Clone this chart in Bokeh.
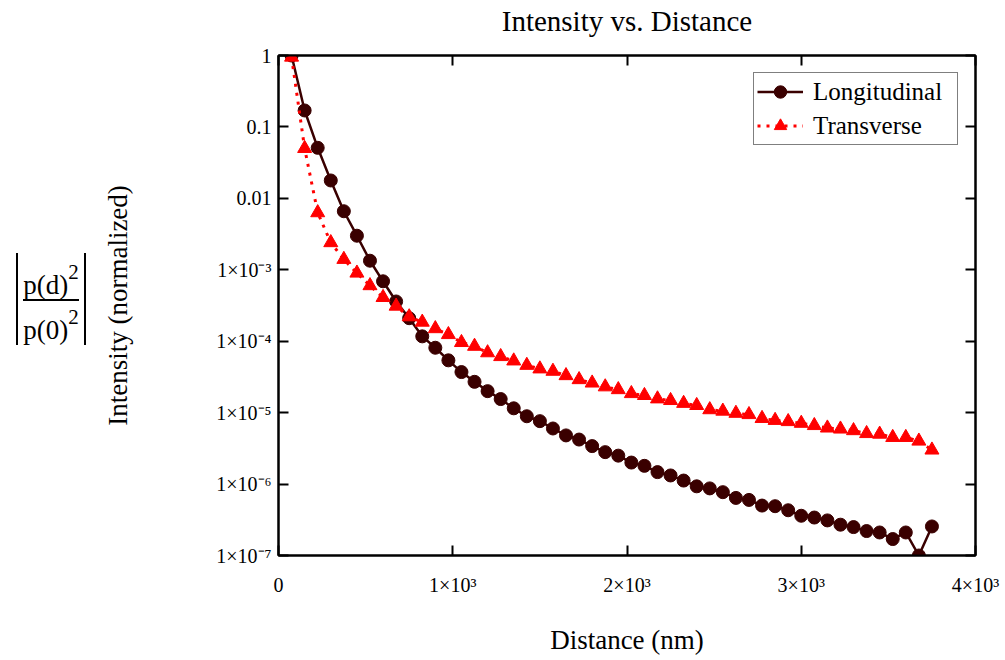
from bokeh.plotting import figure
from bokeh.layouts import row, column
from bokeh.models import (ColumnDataSource, LogAxis, LinearAxis, FixedTicker, Div,
                          CustomJSTickFormatter, Legend, LegendItem, Range1d)
from bokeh.embed import file_html
from bokeh.resources import INLINE

# ---------------- data ----------------
distance_nm = [75, 150, 225, 300, 375, 450, 525, 600, 675, 750,
               825, 900, 975, 1050, 1125, 1200, 1275, 1350, 1425, 1500,
               1575, 1650, 1725, 1800, 1875, 1950, 2025, 2100, 2175, 2250,
               2325, 2400, 2475, 2550, 2625, 2700, 2775, 2850, 2925, 3000,
               3075, 3150, 3225, 3300, 3375, 3450, 3525, 3600, 3675, 3750]

longitudinal = [1.0, 0.17, 0.051, 0.0178, 0.0066, 0.0030, 0.00134, 6.9e-4, 3.6e-4, 2.1e-4,
                1.17e-4, 8.1e-5, 5.4e-5, 3.7e-5, 2.7e-5, 2.0e-5, 1.55e-5, 1.15e-5, 8.9e-6, 7.6e-6,
                6.0e-6, 4.8e-6, 4.2e-6, 3.4e-6, 2.8e-6, 2.5e-6, 2.0e-6, 1.8e-6, 1.47e-6, 1.32e-6,
                1.12e-6, 9.3e-7, 8.7e-7, 7.7e-7, 6.4e-7, 6.0e-7, 5.0e-7, 4.9e-7, 4.3e-7, 3.6e-7,
                3.4e-7, 3.1e-7, 2.7e-7, 2.5e-7, 2.2e-7, 2.1e-7, 1.7e-7, 2.1e-7, 1.0e-7, 2.55e-7]

transverse = [0.95, 0.05, 0.0063, 0.0024, 0.0014, 9.0e-4, 6.0e-4, 4.1e-4, 3.1e-4, 2.2e-4,
              1.85e-4, 1.5e-4, 1.24e-4, 9.6e-5, 8.5e-5, 6.9e-5, 6.1e-5, 5.3e-5, 4.6e-5, 4.1e-5,
              3.8e-5, 3.3e-5, 2.9e-5, 2.6e-5, 2.3e-5, 2.1e-5, 1.85e-5, 1.74e-5, 1.56e-5, 1.48e-5,
              1.35e-5, 1.26e-5, 1.1e-5, 1.05e-5, 9.8e-6, 9.4e-6, 8.3e-6, 7.8e-6, 7.5e-6, 7.1e-6,
              6.6e-6, 6.1e-6, 5.9e-6, 5.6e-6, 5.1e-6, 5.0e-6, 4.5e-6, 4.5e-6, 4.0e-6, 3.0e-6]

series_names = ["Longitudinal", "Transverse"]

x_tick_values = [0, 1000, 2000, 3000, 4000]
x_tick_labels = ["0", "1×10³", "2×10³", "3×10³", "4×10³"]

y_tick_values = [1, 0.1, 0.01, 1e-3, 1e-4, 1e-5, 1e-6, 1e-7]
y_tick_labels = ["1", "0.1", "0.01", "1×10⁻³", "1×10⁻⁴", "1×10⁻⁵", "1×10⁻⁶", "1×10⁻⁷"]

title_text = "Intensity vs. Distance"
x_label = "Distance (nm)"
y_label = "Intensity (normalized)"
expr_num = "p(d)"
expr_den = "p(0)"
expr_pow = "2"

# ---------------- styling ----------------
FONT = "Liberation Serif"
MAROON = "#3a0000"
RED = "#ff0000"
LEFT_W = 100      # width of the block holding the |p(d)^2/p(0)^2| expression
TOP_H = 38        # height of the block holding the title

src = ColumnDataSource(dict(d=distance_nm, lon=longitudinal, tra=transverse))

p = figure(width=1005 - LEFT_W, height=660 - TOP_H,
           x_range=Range1d(0, 4000), y_range=Range1d(1e-7, 1),
           y_axis_type="log", output_backend="svg", toolbar_location=None,
           min_border_left=278 - LEFT_W, min_border_right=30,
           min_border_top=55 - TOP_H, min_border_bottom=105, margin=0)

p.background_fill_color = "white"
p.border_fill_color = "white"
p.outline_line_color = "black"
p.outline_line_width = 2
p.xgrid.visible = False
p.ygrid.visible = False

x_fmt = CustomJSTickFormatter(args=dict(vals=x_tick_values, labs=x_tick_labels), code="""
let best = 0, bd = Infinity;
for (let i = 0; i < vals.length; i++) { const d = Math.abs(tick - vals[i]); if (d < bd) { bd = d; best = i; } }
return labs[best];
""")
y_fmt = CustomJSTickFormatter(args=dict(vals=y_tick_values, labs=y_tick_labels), code="""
let best = 0, bd = Infinity;
for (let i = 0; i < vals.length; i++) { const d = Math.abs(Math.log10(tick) - Math.log10(vals[i])); if (d < bd) { bd = d; best = i; } }
return labs[best];
""")

def style_axis(ax):
    ax.axis_line_color = "black"
    ax.axis_line_width = 2
    ax.major_tick_in = 10
    ax.major_tick_out = 0
    ax.major_tick_line_color = "black"
    ax.major_tick_line_width = 2
    ax.minor_tick_line_color = None
    ax.major_label_text_font = FONT
    ax.major_label_text_color = "black"
    ax.major_label_text_font_size = "20px"

xax = p.xaxis[0]
xax.ticker = FixedTicker(ticks=x_tick_values)
xax.formatter = x_fmt
style_axis(xax)
xax.major_label_standoff = 18
xax.axis_label = x_label
xax.axis_label_text_font = FONT
xax.axis_label_text_font_size = "27px"
xax.axis_label_text_font_style = "normal"
xax.axis_label_text_color = "black"
xax.axis_label_standoff = 26

yax = p.yaxis[0]
yax.ticker = FixedTicker(ticks=y_tick_values)
yax.formatter = y_fmt
style_axis(yax)
yax.major_label_standoff = 7
yax.axis_label = y_label
yax.axis_label_text_font = FONT
yax.axis_label_text_font_size = "27px"
yax.axis_label_text_font_style = "normal"
yax.axis_label_text_color = "black"
yax.axis_label_standoff = 80

# inner ticks on the right and top edges (no visible labels)
rax = LogAxis(ticker=FixedTicker(ticks=y_tick_values))
style_axis(rax)
rax.major_label_text_font_size = "2px"
rax.major_label_text_alpha = 0
rax.major_label_standoff = 0
p.add_layout(rax, "right")
tax = LinearAxis(ticker=FixedTicker(ticks=x_tick_values))
style_axis(tax)
tax.major_label_text_font_size = "2px"
tax.major_label_text_alpha = 0
tax.major_label_standoff = 0
tax.axis_label_standoff = 0
p.add_layout(tax, "above")

# ---------------- series ----------------
l_line = p.line("d", "lon", source=src, line_color=MAROON, line_width=2.5)
l_pts = p.scatter("d", "lon", source=src, marker="circle", size=13,
                  fill_color=MAROON, line_color=MAROON)
t_line = p.line("d", "tra", source=src, line_color=RED, line_width=3, line_dash="3 6")
t_pts = p.scatter("d", "tra", source=src, marker="triangle", size=14,
                  fill_color=RED, line_color=RED)

legend = Legend(items=[LegendItem(label=series_names[0], renderers=[l_line, l_pts]),
                       LegendItem(label=series_names[1], renderers=[t_line, t_pts])],
                location="top_right")
legend.label_text_font = FONT
legend.label_text_font_size = "25px"
legend.label_text_color = "black"
legend.border_line_color = "black"
legend.border_line_width = 1.5
legend.background_fill_color = "white"
legend.background_fill_alpha = 1
legend.margin = 17
legend.padding = 3
legend.spacing = 3
legend.glyph_width = 46
legend.glyph_height = 31
legend.label_standoff = 10
legend.label_width = 141
p.add_layout(legend)

# ---------------- title block (centred over the plot frame) ----------------
title_html = (
    '<div style="position:relative;width:1005px;height:%dpx;">'
    '<div style="position:absolute;left:327px;width:600px;top:3px;line-height:36px;'
    'font-family:\'Liberation Serif\',serif;font-size:29px;color:#000;text-align:center;'
    'white-space:nowrap;">%s</div></div>'
) % (TOP_H, title_text)
title_div = Div(text=title_html, width=1005, height=TOP_H, margin=0)

# ---------------- the |p(d)^2 / p(0)^2| expression at the far left ----------------
sup = ('<span style="font-size:21px;position:relative;top:-15px;">%s</span>' % expr_pow)
line_css = "position:absolute;left:0;right:0;line-height:30px;font-size:27px;text-align:center;white-space:nowrap;"
expr_html = (
    '<div style="position:relative;width:%dpx;height:%dpx;font-family:\'Liberation Serif\',serif;color:#000;">'
    '<div style="position:absolute;left:16px;top:%dpx;width:70px;height:92px;'
    'border-left:2px solid #000;border-right:2px solid #000;">'
    '<div style="%stop:17px;">%s%s</div>'
    '<div style="position:absolute;left:5px;right:5px;top:46px;height:2px;background:#000;"></div>'
    '<div style="%stop:62px;">%s%s</div>'
    '</div></div>'
) % (LEFT_W, 660 - TOP_H, 253 - TOP_H, line_css, expr_num, sup, line_css, expr_den, sup)
expr_div = Div(text=expr_html, width=LEFT_W, height=660 - TOP_H, margin=0)

layout = column(title_div, row(expr_div, p, spacing=0, margin=0), spacing=0, margin=0)

open("out.html", "w").write(file_html(layout, INLINE))
